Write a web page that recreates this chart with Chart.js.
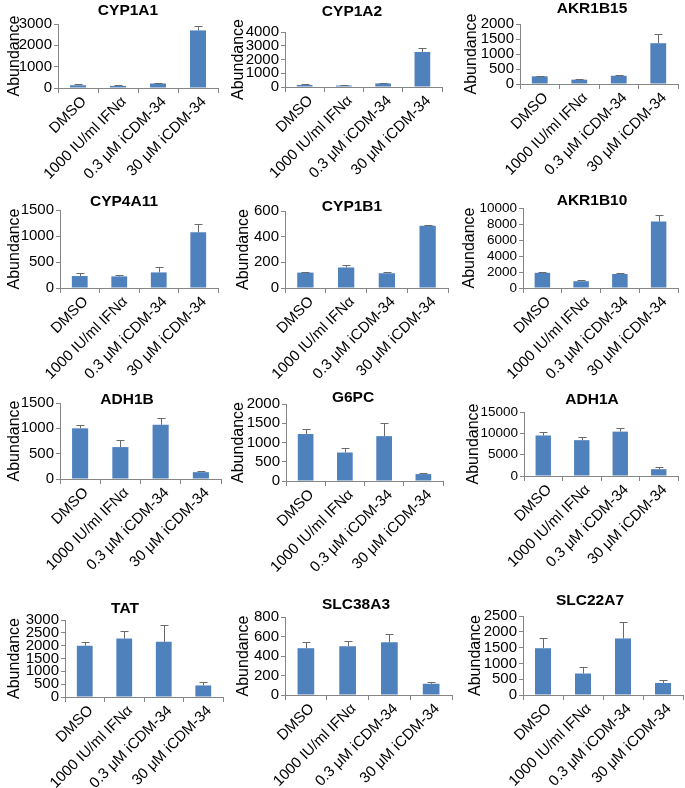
<!DOCTYPE html>
<html>
<head>
<meta charset="utf-8">
<script src="https://cdn.jsdelivr.net/npm/chart.js@4.4.0/dist/chart.umd.min.js"></script>
<style>
  html, body { margin: 0; padding: 0; background: #fff; overflow: hidden; }
  body { position: relative; width: 685px; height: 788px; }
  canvas { position: absolute; }
</style>
</head>
<body>
<script>
const categories = ['DMSO', '1000 IU/ml IFNα', '0.3 μM iCDM-34', '30 μM iCDM-34'];
const genes = ['CYP1A1', 'CYP1A2', 'AKR1B15', 'CYP4A11', 'CYP1B1', 'AKR1B10',
               'ADH1B', 'G6PC', 'ADH1A', 'TAT', 'SLC38A3', 'SLC22A7'];

// mean abundance and the (upper) error bar for each gene
const cyp1a1Mean = [130, 100, 210, 2700];    const cyp1a1Err = [40, 25, 30, 210];
const cyp1a2Mean = [150, 110, 260, 2550];    const cyp1a2Err = [40, 30, 30, 300];
const akr1b15Mean = [255, 145, 275, 1360];   const akr1b15Err = [10, 30, 40, 300];
const cyp4a11Mean = [230, 223, 300, 1070];   const cyp4a11Err = [50, 30, 110, 170];
const cyp1b1Mean = [120, 160, 115, 485];     const cyp1b1Err = [6, 20, 8, 4];
const akr1b10Mean = [1900, 850, 1750, 8300]; const akr1b10Err = [80, 200, 130, 800];
const adh1bMean = [1000, 630, 1070, 135];    const adh1bErr = [75, 135, 130, 30];
const g6pcMean = [1220, 740, 1165, 180];     const g6pcErr = [140, 115, 340, 25];
const adh1aMean = [9500, 8400, 10400, 1600]; const adh1aErr = [750, 650, 900, 450];
const tatMean = [2000, 2280, 2150, 450];     const tatErr = [130, 300, 650, 150];
const slc38a3Mean = [480, 500, 540, 115];    const slc38a3Err = [60, 50, 90, 15];
const slc22a7Mean = [1480, 680, 1790, 380];  const slc22a7Err = [310, 220, 510, 80];

const means = [cyp1a1Mean, cyp1a2Mean, akr1b15Mean, cyp4a11Mean, cyp1b1Mean, akr1b10Mean,
               adh1bMean, g6pcMean, adh1aMean, tatMean, slc38a3Mean, slc22a7Mean];
const errors = [cyp1a1Err, cyp1a2Err, akr1b15Err, cyp4a11Err, cyp1b1Err, akr1b10Err,
                adh1bErr, g6pcErr, adh1aErr, tatErr, slc38a3Err, slc22a7Err];

// y axis ticks
const yMax = [3000, 4000, 2000, 1500, 600, 10000, 1500, 2000, 15000, 3000, 800, 2500];
const yStep = [1000, 1000, 500, 500, 200, 2000, 500, 500, 5000, 500, 200, 500];

// where each small chart sits on the page (px)
const panels = [
  { abX: 15,  plotL: 58,  plotR: 218, plotT: 24,  plotB: 88,  titleX: 128, titleY: 11 },
  { abX: 239, plotL: 285, plotR: 442, plotT: 32,  plotB: 87,  titleX: 352, titleY: 12 },
  { abX: 472, plotL: 520, plotR: 678, plotT: 24,  plotB: 84,  titleX: 592, titleY: 9 },
  { abX: 15,  plotL: 60,  plotR: 218, plotT: 210, plotB: 288, titleX: 124, titleY: 202 },
  { abX: 244, plotL: 285, plotR: 448, plotT: 211, plotB: 288, titleX: 352, titleY: 207 },
  { abX: 470, plotL: 523, plotR: 678, plotT: 208, plotB: 288, titleX: 592, titleY: 201 },
  { abX: 15,  plotL: 60,  plotR: 221, plotT: 403, plotB: 479, titleX: 127, titleY: 400 },
  { abX: 239, plotL: 286, plotR: 443, plotT: 404, plotB: 481, titleX: 353, titleY: 398 },
  { abX: 474, plotL: 524, plotR: 678, plotT: 412, plotB: 476, titleX: 592, titleY: 400 },
  { abX: 15,  plotL: 65,  plotR: 223, plotT: 620, plotB: 697, titleX: 125, titleY: 609 },
  { abX: 244, plotL: 285, plotR: 452, plotT: 617, plotB: 695, titleX: 356, titleY: 605 },
  { abX: 476, plotL: 523, plotR: 683, plotT: 616, plotB: 695, titleX: 590, titleY: 601 }
];

const family = "'Liberation Sans', Arial, sans-serif";
const axisGray = '#868686';

// plus-direction error bars, drawn on top of the bars
const errorBars = {
  id: 'errorBars',
  afterDatasetsDraw(chart) {
    const ctx = chart.ctx;
    const yScale = chart.scales.y;
    chart.data.datasets.forEach((ds, di) => {
      chart.getDatasetMeta(di).data.forEach((bar, j) => {
        const yTop = Math.round(yScale.getPixelForValue(ds.data[j] + ds.errors[j])) + 0.5;
        const x = Math.round(bar.x) + 0.5;
        ctx.save();
        ctx.strokeStyle = '#6a6a6a';
        ctx.lineWidth = 1;
        ctx.beginPath();
        ctx.moveTo(x, bar.y);
        ctx.lineTo(x, yTop);
        ctx.moveTo(x - 4, yTop);
        ctx.lineTo(x + 4, yTop);
        ctx.stroke();
        ctx.restore();
      });
    });
  }
};

// gene name above each chart
const panelTitle = {
  id: 'panelTitle',
  afterDraw(chart, args, opts) {
    const ctx = chart.ctx;
    ctx.save();
    ctx.font = 'bold 15.5px ' + family;
    ctx.fillStyle = '#000';
    ctx.textAlign = 'center';
    ctx.textBaseline = 'middle';
    ctx.fillText(opts.text, opts.x, opts.y);
    ctx.restore();
  }
};

panels.forEach((p, i) => {
  const left = p.abX - 15;
  const top = p.titleY - 12;
  const width = p.plotR - left + 8;
  const xAxisH = 100;
  const height = p.plotB - top + xAxisH;

  const canvas = document.createElement('canvas');
  canvas.width = width;
  canvas.height = height;
  canvas.style.left = left + 'px';
  canvas.style.top = top + 'px';
  canvas.style.width = width + 'px';
  canvas.style.height = height + 'px';
  document.body.appendChild(canvas);

  new Chart(canvas, {
    type: 'bar',
    data: {
      labels: categories,
      datasets: [{
        data: means[i],
        errors: errors[i],
        backgroundColor: '#4F81BD',
        borderWidth: 0,
        barPercentage: 0.4,
        categoryPercentage: 1.0
      }]
    },
    options: {
      responsive: false,
      animation: false,
      devicePixelRatio: 1,
      layout: { padding: { top: p.plotT - top, right: width - (p.plotR - left), left: 0, bottom: 0 } },
      plugins: {
        legend: { display: false },
        tooltip: { enabled: false },
        panelTitle: { text: genes[i], x: p.titleX - left, y: p.titleY - top }
      },
      scales: {
        x: {
          offset: true,
          grid: { offset: true, drawOnChartArea: false, drawTicks: true, tickLength: 5, color: axisGray },
          border: { color: axisGray },
          ticks: {
            color: '#000', autoSkip: false, maxRotation: 45, minRotation: 45, padding: 0,
            labelOffset: 6,
            font: { size: 15, family: family }
          },
          afterFit: (s) => { s.height = xAxisH; }
        },
        y: {
          min: 0,
          max: yMax[i],
          grid: { drawOnChartArea: false, drawTicks: true, tickLength: 4, color: axisGray },
          border: { color: axisGray },
          ticks: {
            stepSize: yStep[i], color: '#000', padding: 2, autoSkip: false,
            font: { size: yMax[i] >= 10000 ? 13.5 : 15, lineHeight: 1, family: family },
            callback: (v) => String(v)
          },
          title: {
            display: true, text: 'Abundance', color: '#000',
            font: { size: 16, family: family }, padding: { top: 5, bottom: 0 }
          },
          afterFit: (s) => { s.width = p.plotL - left; }
        }
      }
    },
    plugins: [errorBars, panelTitle]
  });
});
</script>
</body>
</html>
